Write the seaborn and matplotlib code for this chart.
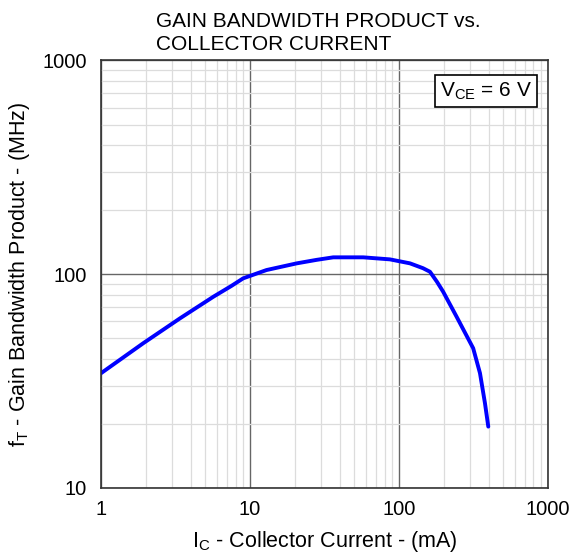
import numpy as np
import pandas as pd
import seaborn as sns
import matplotlib.pyplot as plt
from matplotlib.ticker import LogLocator, NullFormatter, FixedLocator, FixedFormatter

# values
collector_current_ma = [1, 1.92, 3.39, 5.67, 7.5, 9.0, 12.9, 20.6, 28, 36.2, 57.6, 87, 118.6,
                        145, 161.5, 180, 198, 244, 315, 350, 378, 398]
gain_bandwidth_mhz = [34.4, 47.5, 62.1, 78.3, 88, 95.5, 104.4, 112.2, 116.5, 119.7, 119.7, 117.1,
                      112.2, 106.5, 102.5, 92, 82.7, 63.1, 45, 34.4, 24.9, 19.35]
tick_values = [1, 10, 100, 1000]
tick_labels = ['1', '10', '100', '1000']
y_tick_values = [10, 100, 1000]
y_tick_labels = ['10', '100', '1000']

sns.set_style("white")
plt.rcParams['font.family'] = ['Liberation Sans', 'DejaVu Sans']
plt.rcParams['mathtext.fontset'] = 'custom'
plt.rcParams['mathtext.rm'] = 'Liberation Sans'
plt.rcParams['text.color'] = 'black'
plt.rcParams['axes.labelcolor'] = 'black'
plt.rcParams['xtick.color'] = 'black'
plt.rcParams['ytick.color'] = 'black'

df = pd.DataFrame({'ic': collector_current_ma, 'ft': gain_bandwidth_mhz})

fig = plt.figure(figsize=(5.81, 5.57), dpi=100)
ax = fig.add_axes([0.174, 0.124, 0.769, 0.768])

sns.lineplot(data=df, x='ic', y='ft', ax=ax, color='#0000ff', linewidth=2.8,
             sort=False, estimator=None)

ax.set_xscale('log')
ax.set_yscale('log')
ax.set_xlim(1, 1000)
ax.set_ylim(10, 1000)

ax.xaxis.set_major_locator(FixedLocator(tick_values))
ax.xaxis.set_major_formatter(FixedFormatter(tick_labels))
ax.yaxis.set_major_locator(FixedLocator(y_tick_values))
ax.yaxis.set_major_formatter(FixedFormatter(y_tick_labels))
for axis in (ax.xaxis, ax.yaxis):
    axis.set_minor_locator(LogLocator(base=10, subs=np.arange(2, 10)))
    axis.set_minor_formatter(NullFormatter())

ax.grid(which='major', color='#666666', linewidth=1.0)
ax.grid(which='minor', color='#dcdcdc', linewidth=0.9)
ax.set_axisbelow(True)
ax.tick_params(which='both', length=0)
ax.tick_params(axis='y', pad=10, labelsize=14.5)
ax.tick_params(axis='x', pad=9, labelsize=14.5)

for s in ax.spines.values():
    s.set_color('#333333')
    s.set_linewidth(1.2)

ax.set_xlabel('I$_\\mathregular{C}$ - Collector Current - (mA)', fontsize=15.5, labelpad=7)
ax.set_ylabel('f$_\\mathregular{T}$ - Gain Bandwidth Product - (MHz)', fontsize=15.5, labelpad=8)

fig.text(0.268, 1 - 27 / 557, 'GAIN BANDWIDTH PRODUCT vs.', fontsize=15,
         ha='left', va='baseline')
fig.text(0.268, 1 - 50 / 557, 'COLLECTOR CURRENT', fontsize=15,
         ha='left', va='baseline')

ax.text(0.965, 0.953, 'V$_\\mathregular{CE}$ = 6 V', transform=ax.transAxes, fontsize=15,
        ha='right', va='top',
        bbox=dict(boxstyle='square,pad=0.25', facecolor='white', edgecolor='black', linewidth=1.2))

fig.savefig('out.png', dpi=100)
